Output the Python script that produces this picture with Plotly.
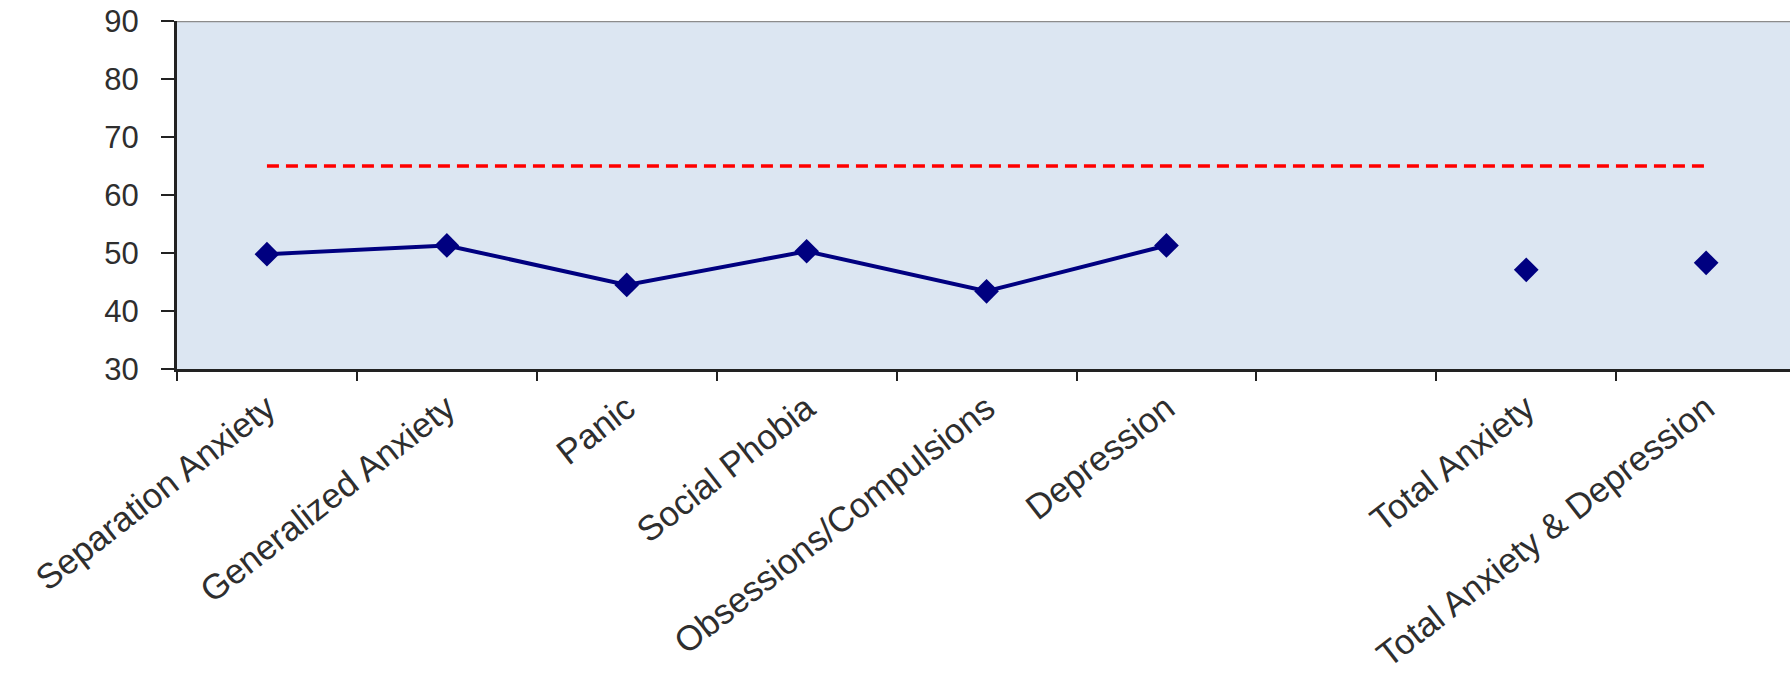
import plotly.graph_objects as go

# Category slots along the x axis (one empty slot separates the totals)
categories = [
    "Separation Anxiety",
    "Generalized Anxiety",
    "Panic",
    "Social Phobia",
    "Obsessions/Compulsions",
    "Depression",
    " ",
    "Total Anxiety",
    "Total Anxiety & Depression",
]

subscales = categories[:6]
subscale_scores = [49.8, 51.3, 44.5, 50.3, 43.4, 51.3]

totals = ["Total Anxiety", "Total Anxiety & Depression"]
total_scores = [47.1, 48.3]

cutoff = [65] * len(categories)

y_ticks = [30, 40, 50, 60, 70, 80, 90]

NAVY = "#000080"
FONT = "Liberation Sans, Arial, sans-serif"

fig = go.Figure()

# Clinical cutoff line
fig.add_trace(go.Scatter(
    x=categories, y=cutoff, mode="lines",
    line=dict(color="#FF0000", width=3.5, dash="12px,7px"),
    hoverinfo="skip", showlegend=False,
))

# Subscale T-scores
fig.add_trace(go.Scatter(
    x=subscales, y=subscale_scores, mode="lines+markers",
    line=dict(color=NAVY, width=4),
    marker=dict(symbol="diamond", size=19, color=NAVY),
    showlegend=False,
))

# Total scores (unconnected)
fig.add_trace(go.Scatter(
    x=totals, y=total_scores, mode="markers",
    marker=dict(symbol="diamond", size=19, color=NAVY),
    showlegend=False,
))

fig.update_layout(
    width=1790, height=677,
    margin=dict(l=177, r=0, t=21, b=308, autoexpand=False),
    paper_bgcolor="white",
    plot_bgcolor="#DCE6F2",
    font=dict(family=FONT, size=31, color="#2E2E2E"),
    xaxis=dict(
        type="category",
        categoryorder="array", categoryarray=categories,
        range=[-0.5, -0.5 + 1613 / 179.9],
        tickson="boundaries",
        ticks="outside", ticklen=9, tickwidth=2, tickcolor="#222222",
        tickangle=-38,
        ticklabelstandoff=2,
        showline=True, linecolor="#222222", linewidth=3,
        showgrid=False, zeroline=False,
        tickfont=dict(family=FONT, size=35, color="#2E2E2E"),
    ),
    yaxis=dict(
        range=[30, 90],
        tickvals=y_ticks,
        ticks="outside", ticklen=13, tickwidth=2, tickcolor="#222222",
        ticklabelstandoff=16,
        showline=True, linecolor="#222222", linewidth=3,
        showgrid=False, zeroline=False,
        tickfont=dict(family=FONT, size=31, color="#2E2E2E"),
    ),
    shapes=[dict(
        type="line", xref="paper", yref="y",
        x0=0, x1=1, y0=90, y1=90,
        line=dict(color="#8C8C8C", width=2.5),
    )],
)

fig.write_html("out.html")
